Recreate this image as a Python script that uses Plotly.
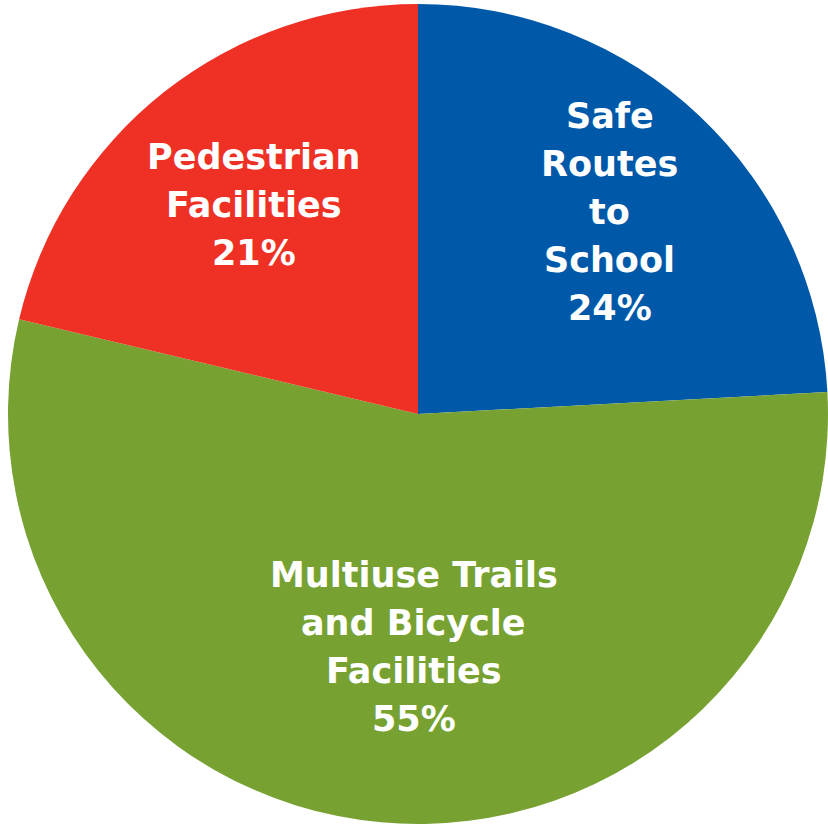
import plotly.graph_objects as go

categories = ["Safe Routes to School", "Multiuse Trails and Bicycle Facilities", "Pedestrian Facilities"]
display_labels = ["Safe<br>Routes<br>to<br>School", "Multiuse Trails<br>and Bicycle<br>Facilities", "Pedestrian<br>Facilities"]
values = [24.15, 54.56, 21.29]
colors = ["#0059A8", "#77A232", "#EE3124"]

W, H = 828, 826
CX, CY, R = 418, 414, 410  # pixel centre (from top) and radius
# label block centres, as offsets from the pie centre in radius units (style)
label_offsets = [(0.468, -0.492), (-0.01, 0.568), (-0.40, -0.51)]
LINE_GAP = 48
FONT = dict(family="DejaVu Sans, Liberation Sans, Arial, sans-serif", size=35,
            color="white", weight="bold")

fig = go.Figure(go.Pie(
    labels=categories,
    values=values,
    sort=False,
    direction="clockwise",
    rotation=0,
    marker=dict(colors=colors, line=dict(width=0)),
    textinfo="none",
    hoverinfo="label+percent",
    showlegend=False,
    domain=dict(x=[(CX - R) / W, min(1.0, (CX + R) / W)],
                y=[(H - CY - R) / H, (H - CY + R) / H]),
))

total = sum(values)
annotations = []
for lab, v, (ox, oy) in zip(display_labels, values, label_offsets):
    px = CX + ox * R
    py = CY + oy * R
    lines = lab.split("<br>") + [f"{round(v / total * 100)}%"]
    n = len(lines)
    for i, line in enumerate(lines):
        ly = py + (i - (n - 1) / 2) * LINE_GAP
        annotations.append(dict(
            x=px / W, y=1 - ly / H, xref="paper", yref="paper",
            text=line, showarrow=False, xanchor="center", yanchor="middle",
            font=FONT,
        ))

fig.update_layout(
    width=W, height=H,
    margin=dict(l=0, r=0, t=0, b=0),
    paper_bgcolor="white",
    plot_bgcolor="white",
    annotations=annotations,
)

fig.write_html("out.html", config={"displayModeBar": False},
               post_script="document.body.style.margin='0';")
